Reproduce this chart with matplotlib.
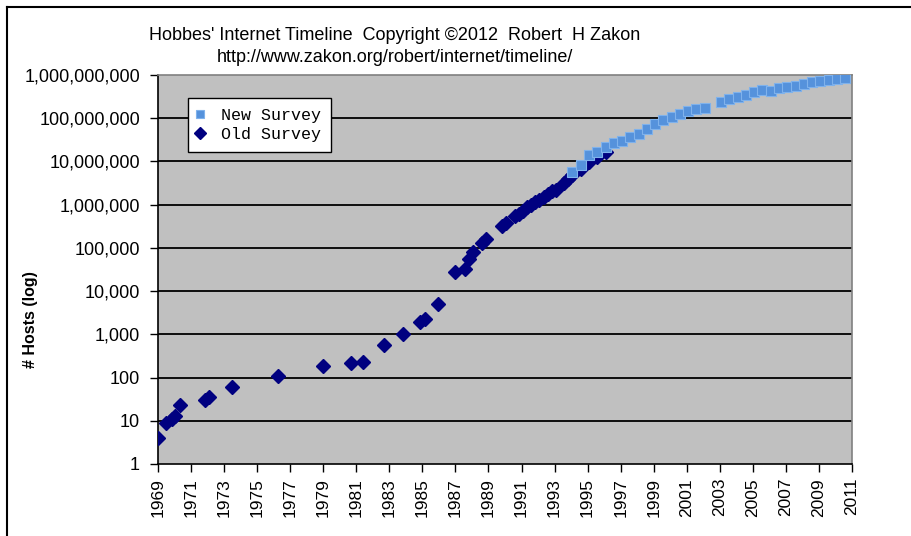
import matplotlib
matplotlib.use("Agg")
import matplotlib.pyplot as plt
from matplotlib.lines import Line2D
from matplotlib.ticker import FixedLocator, FuncFormatter, NullLocator

# ---- data (month/year, host count) ----
old_dates = ["12/69", "06/70", "10/70", "12/70", "04/71", "10/72", "01/73", "06/74",
             "03/77", "12/79", "08/81", "05/82", "08/83", "10/84", "10/85", "02/86",
             "11/86", "12/87", "07/88", "10/88", "01/89", "07/89", "10/89", "10/90",
             "01/91", "07/91", "10/91", "01/92", "04/92", "07/92", "10/92", "01/93",
             "04/93", "07/93", "10/93", "01/94", "07/94", "10/94", "01/95", "07/95",
             "01/96", "07/96", "01/97"]
old_hosts = [4, 9, 11, 13, 23, 31, 35, 62,
             111, 188, 213, 235, 562, 1024, 1961, 2308,
             5089, 28174, 33000, 56000, 80000, 130000, 159000, 313000,
             376000, 535000, 617000, 727000, 890000, 992000, 1136000, 1313000,
             1486000, 1776000, 2056000, 2217000, 3212000, 3864000, 4852000, 6642000,
             9472000, 12881000, 16146000]

new_dates = ["01/95", "07/95", "01/96", "07/96", "01/97", "07/97", "01/98", "07/98",
             "01/99", "07/99", "01/00", "07/00", "01/01", "07/01", "01/02", "07/02",
             "01/03", "01/04", "07/04", "01/05", "07/05", "01/06", "07/06", "01/07",
             "07/07", "01/08", "07/08", "01/09", "07/09", "01/10", "07/10", "01/11",
             "07/11"]
new_hosts = [5846000, 8200000, 14352000, 16729000, 21819000, 26053000, 29670000, 36739000,
             43230000, 56218000, 72398092, 93047785, 109574429, 125888197, 147344723, 162128493,
             171638297, 233101481, 285139107, 317646084, 353284187, 394991609, 439286364, 433193199,
             489774269, 541677360, 570937778, 625226456, 681064561, 732740444, 768913036, 818374269,
             849869781]

tick_years = list(range(1969, 2012, 2))
y_ticks = [1, 10, 100, 1000, 10000, 100000, 1000000, 10000000, 100000000, 1000000000]


def to_decimal(d):
    m, y = d.split("/")
    y = int(y)
    y += 1900 if y >= 50 else 2000
    return y + (int(m) - 1) / 12.0


old_x = [to_decimal(d) for d in old_dates]
new_x = [to_decimal(d) for d in new_dates]

# Excel date axis starting at Dec 1969, major unit 2 years, format "yyyy"
axis_start = to_decimal("12/69")
tick_pos = [axis_start + (y - 1969) for y in tick_years]

plt.rcParams['font.family'] = ['Liberation Sans', 'DejaVu Sans']

fig = plt.figure(figsize=(9.12, 5.36), dpi=100)
fig.patch.set_facecolor("white")
ax = fig.add_axes([158 / 912, 1 - 464 / 536, (852 - 158) / 912, (464 - 75) / 536])
ax.set_facecolor("#C0C0C0")

ax.set_yscale("log")
ax.set_ylim(1, 1e9)
ax.set_xlim(tick_pos[0], tick_pos[-1])

for v in y_ticks[1:-1]:
    ax.axhline(v, color="black", lw=1.3, zorder=1)

ax.plot(old_x, old_hosts, linestyle="none", marker="D", markersize=6.8,
        color="#000080", markeredgecolor="#000080", zorder=3, label="Old Survey")
ax.plot(new_x, new_hosts, linestyle="none", marker="s", markersize=6.6,
        color="#5592DC", markeredgecolor="#7FB2EC", markeredgewidth=0.8,
        zorder=4, label="New Survey")

ax.yaxis.set_major_locator(FixedLocator(y_ticks))
ax.yaxis.set_minor_locator(NullLocator())
ax.yaxis.set_major_formatter(FuncFormatter(lambda v, p: f"{int(round(v)):,}"))
ax.xaxis.set_major_locator(FixedLocator(tick_pos))
ax.xaxis.set_minor_locator(NullLocator())
ax.set_xticklabels([str(y) for y in tick_years], rotation=90)

ax.tick_params(axis="y", direction="out", length=6, width=1, labelsize=13,
               pad=7, colors="black")
ax.tick_params(axis="x", direction="out", length=6, width=1, labelsize=12.5,
               pad=4, colors="black")

for s in ("left", "bottom"):
    ax.spines[s].set_color("black")
    ax.spines[s].set_linewidth(1.2)
for s in ("top", "right"):
    ax.spines[s].set_color("#808080")
    ax.spines[s].set_linewidth(1.2)

handles, labels = ax.get_legend_handles_labels()
leg = ax.legend([handles[1], handles[0]], [labels[1], labels[0]],
                loc="upper left", bbox_to_anchor=(188 / 912, 1 - 98 / 536),
                bbox_transform=fig.transFigure,
                prop={"family": "Liberation Mono", "size": 12},
                frameon=True, fancybox=False, edgecolor="black", facecolor="white",
                framealpha=1, borderpad=0.6, labelspacing=0.25, handlelength=0.25,
                handletextpad=1.15, borderaxespad=0, markerscale=0.9)
leg.get_frame().set_linewidth(1.0)
leg.set_zorder(10)

fig.text(395 / 912, 1 - 36 / 536, "Hobbes' Internet Timeline  Copyright ©2012  Robert  H Zakon",
         ha="center", va="center", fontsize=13)
fig.text(395 / 912, 1 - 57 / 536, "http://www.zakon.org/robert/internet/timeline/",
         ha="center", va="center", fontsize=13)
fig.text(31 / 912, 1 - 320 / 536, "# Hosts (log)", rotation=90, ha="center",
         va="center", fontsize=11.5, fontweight="bold")

# outer chart border (top and left visible)
fig.add_artist(Line2D([7 / 912, 1.0], [1 - 7 / 536, 1 - 7 / 536], color="black",
                      lw=1.5, transform=fig.transFigure))
fig.add_artist(Line2D([7 / 912, 7 / 912], [0, 1 - 7 / 536], color="black",
                      lw=1.5, transform=fig.transFigure))

fig.savefig("out.png", dpi=100)
